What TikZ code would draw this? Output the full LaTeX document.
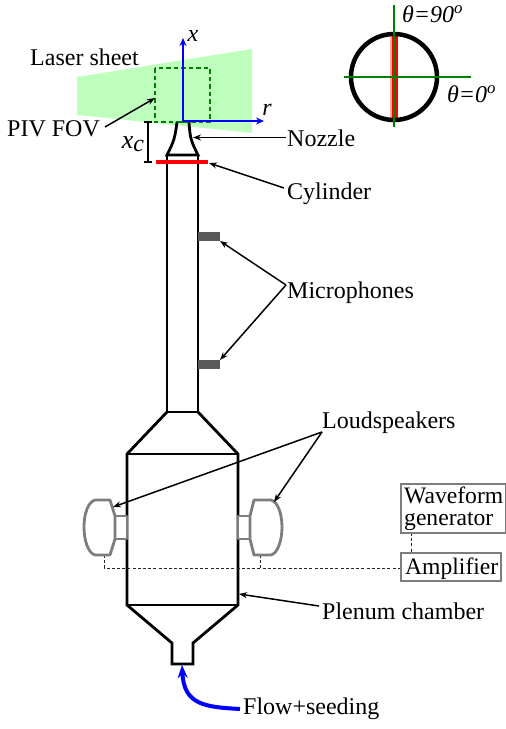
\documentclass[tikz,border=0pt]{standalone}
\usepackage{fontspec}
\setmainfont{Liberation Serif}
\usetikzlibrary{arrows.meta}
\definecolor{sheet}{RGB}{190,255,190}
\definecolor{fovg}{RGB}{0,130,0}
\definecolor{grayb}{RGB}{125,125,125}
\tikzset{
  lbl/.style={inner sep=0pt,font=\fontsize{24}{26}\selectfont,anchor=west},
  ital/.style={inner sep=0pt,font=\fontsize{24}{26}\selectfont\itshape},
  wall/.style={draw=black,line width=2.8pt,line join=miter},
  spk/.style={draw=grayb,line width=2.8pt,fill=white,line join=round},
  lead/.style={draw=black,line width=1.5pt,-{Stealth[length=8pt,width=6pt]}},
  thin dash/.style={draw=black!85,line width=0.9pt,dash pattern=on 3pt off 2.2pt},
  axis/.style={draw=blue,line width=1.7pt,-{Stealth[length=8pt,width=7pt]}},
  boxtext/.style={inner sep=0pt,anchor=base west,font=\fontsize{23.6}{23.6}\selectfont},
  boxframe/.style={draw=grayb,line width=1.8pt,fill=white}
}
\begin{document}
\begin{tikzpicture}[x=1pt,y=-1pt]
\useasboundingbox (0,0) rectangle (506,729);
% laser sheet
\fill[sheet] (77,77) -- (252,49) -- (252,133) -- (77,115) -- cycle;
\draw[fovg,line width=1.9pt,dash pattern=on 4.5pt off 3pt] (155,68) rectangle (210,122);
\coordinate (fovp) at (155,98);
% nozzle
\draw[wall] (177,122) .. controls (175,138) and (174,141) .. (167,155) -- (198,155) .. controls (191,141) and (190,138) .. (189,122);
\draw[fovg,line width=2.4pt] (177,122) -- (189,122);
% tube
\draw[wall] (167,155) -- (167,412);
\draw[wall] (198,155) -- (198,412);
\draw[wall] (167,412) -- (198,412);
\draw[red,line width=3.6pt] (156,162) coordinate (cyla) -- (208,162) coordinate (cylb);
% body
\draw[wall] (167,412) -- (127,454) -- (127,605) -- (172,643) -- (172,664) -- (193,664) -- (193,643) -- (238,605) -- (238,454) -- (198,412);
\draw[wall] (127,454) -- (238,454);
\draw[wall] (127,605) -- (238,605);
% axes
\coordinate (O) at (183,121);
\coordinate (xt) at (183,38);
\coordinate (rt) at (264,121);
\draw[axis] (O) -- (xt);
\draw[axis] (O) -- (rt);
\node[ital] (xlab) at (193,36) {x};
\node[ital] (rlab) at (267,110) {r};
% xc
\draw[black,line width=1.5pt] (144,122) -- (152,122) (148,122) -- (148,162) (144,162) -- (152,162);
\node[inner sep=0pt,font=\fontsize{26}{28}\selectfont\itshape] (xclab) at (133,144) {x\raisebox{-3pt}{\fontsize{24}{26}\selectfont c}};
% microphones
\fill[black!65] (198,232) rectangle (220,241);
\fill[black!65] (198,360) rectangle (220,369);
\coordinate (mica) at (220,241);
\coordinate (micb) at (220,360);
% speakers and dashed wires
\draw[thin dash] (104,555) -- (104,568) -- (401,568);
\draw[thin dash] (260,555) -- (260,568);
\draw[thin dash] (411,533) -- (411,553);
\draw[spk] (115,516) rectangle (127,539);
\draw[spk] (110,500) -- (115,516) -- (115,539) -- (110,555) -- (95,555) .. controls (88,553) and (84,540) .. (84,527) .. controls (84,514) and (88,502) .. (95,500) -- cycle;
\draw[spk] (238,516) rectangle (250,539);
\draw[spk] (254,500) -- (250,516) -- (250,539) -- (254,555) -- (271,555) .. controls (278,553) and (282,540) .. (282,527) .. controls (282,514) and (278,502) .. (271,500) -- cycle;
\coordinate (spa) at (113,507);
\coordinate (spb) at (274,502);
% labels
\node[lbl] (laser) at (30,57) {Laser sheet};
\node[lbl] (piv) at (7,129) {PIV FOV};
\node[lbl] (noz) at (287,138) {Nozzle};
\node[lbl] (cyl) at (287,194) {Cylinder};
\node[lbl] (mic) at (287,293) {Microphones};
\node[lbl] (lsp) at (322,423) {Loudspeakers};
\node[lbl] (ple) at (322,611) {Plenum chamber};
\node[lbl] (flow) at (243,709) {Flow+seeding};
\draw[boxframe] (401,484) rectangle (505.5,533);
\node[boxtext] (wave1) at (404,503) {Waveform};
\node[boxtext] (wave2) at (404,525.5) {generator};
\draw[boxframe] (401,553) rectangle (501,581);
\node[boxtext] (amp) at (405,574) {Amplifier};
% leaders
\draw[lead] (105,127) -- (fovp);
\coordinate (nozt) at (193,137.5);
\coordinate (noza) at (286,137.5);
\draw[lead] (noza) -- (nozt);
\coordinate (cyls) at (284,188);
\draw[lead] (cyls) -- (209,163);
\coordinate (mics) at (286,285);
\draw[lead] (mics) -- (mica);
\draw[lead] (mics) -- (micb);
\coordinate (lsps) at (322,432);
\draw[lead] (lsps) -- (spa);
\draw[lead] (lsps) -- (spb);
\coordinate (ples) at (319,606);
\coordinate (plet) at (239,594);
\draw[lead] (ples) -- (plet);
% flow arrow
\coordinate (fls) at (240,709);
\coordinate (flt) at (182,665);
\draw[draw=blue,line width=4pt,-{Stealth[length=13pt,width=10pt]}] (fls) .. controls (205,707) and (184,705) .. (flt);
% circle inset
\coordinate (cc) at (394,77);
\draw[red!35,line width=2pt] (391,36) -- (391,118);
\draw[red,line width=5.5pt] (395,36) -- (395,118);
\draw[black,line width=4.5pt] (cc) circle (43);
\draw[fovg,line width=1.6pt] (394,5) -- (394,127);
\draw[fovg,line width=1.6pt] (344,77) -- (471,77);
\node[inner sep=0pt,anchor=west,font=\fontsize{24}{26}\selectfont\itshape] (t90) at (402,14) {θ=90\textsuperscript{o}};
\node[inner sep=0pt,anchor=west,font=\fontsize{24}{26}\selectfont\itshape] (t0) at (447,94) {θ=0\textsuperscript{o}};
\end{tikzpicture}
\end{document}
